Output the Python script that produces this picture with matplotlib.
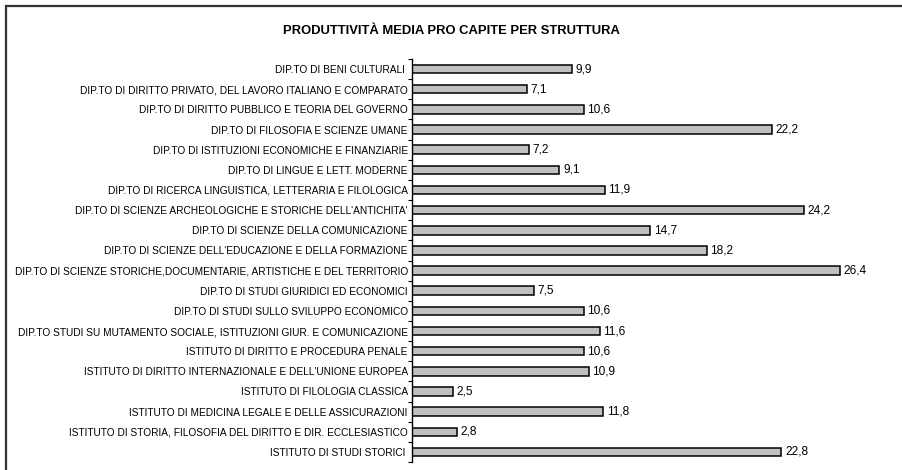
import numpy as np
import matplotlib.pyplot as plt
from matplotlib.patches import Rectangle

plt.rcParams['font.family'] = ['Liberation Sans', 'DejaVu Sans']

strutture = [
    "DIP.TO DI BENI CULTURALI ",
    "DIP.TO DI DIRITTO PRIVATO, DEL LAVORO ITALIANO E COMPARATO",
    "DIP.TO DI DIRITTO PUBBLICO E TEORIA DEL GOVERNO",
    "DIP.TO DI FILOSOFIA E SCIENZE UMANE",
    "DIP.TO DI ISTITUZIONI ECONOMICHE E FINANZIARIE",
    "DIP.TO DI LINGUE E LETT. MODERNE",
    "DIP.TO DI RICERCA LINGUISTICA, LETTERARIA E FILOLOGICA",
    "DIP.TO DI SCIENZE ARCHEOLOGICHE E STORICHE DELL'ANTICHITA'",
    "DIP.TO DI SCIENZE DELLA COMUNICAZIONE",
    "DIP.TO DI SCIENZE DELL'EDUCAZIONE E DELLA FORMAZIONE",
    "DIP.TO DI SCIENZE STORICHE,DOCUMENTARIE, ARTISTICHE E DEL TERRITORIO",
    "DIP.TO DI STUDI GIURIDICI ED ECONOMICI",
    "DIP.TO DI STUDI SULLO SVILUPPO ECONOMICO",
    "DIP.TO STUDI SU MUTAMENTO SOCIALE, ISTITUZIONI GIUR. E COMUNICAZIONE",
    "ISTITUTO DI DIRITTO E PROCEDURA PENALE",
    "ISTITUTO DI DIRITTO INTERNAZIONALE E DELL'UNIONE EUROPEA",
    "ISTITUTO DI FILOLOGIA CLASSICA",
    "ISTITUTO DI MEDICINA LEGALE E DELLE ASSICURAZIONI",
    "ISTITUTO DI STORIA, FILOSOFIA DEL DIRITTO E DIR. ECCLESIASTICO",
    "ISTITUTO DI STUDI STORICI ",
]
produttivita = [9.9, 7.1, 10.6, 22.2, 7.2, 9.1, 11.9, 24.2, 14.7, 18.2,
                26.4, 7.5, 10.6, 11.6, 10.6, 10.9, 2.5, 11.8, 2.8, 22.8]

W, H = 903, 470
fig = plt.figure(figsize=(W / 100, H / 100), dpi=100)
ax = fig.add_axes([412 / W, 1 - 462 / H, (890 - 412) / W, (462 - 59) / H])

n = len(strutture)
y = np.arange(n)
ax.barh(y, produttivita, height=0.42, color='#c0c0c0', edgecolor='black', linewidth=1.1)

for yi, v in zip(y, produttivita):
    ax.text(v + 0.22, yi, f"{v:.1f}".replace('.', ','), va='center', ha='left', fontsize=8.6)

ax.set_ylim(n - 0.5, -0.5)
ax.set_xlim(0, 29.5)
ax.set_yticks(y)
ax.set_yticklabels(strutture, fontsize=7.28)
ax.tick_params(axis='y', which='major', length=0, pad=3)
ax.set_yticks(np.arange(n + 1) - 0.5, minor=True)
ax.tick_params(axis='y', which='minor', length=3, width=0.8, direction='out')
ax.set_xticks([])
for s in ['top', 'right', 'bottom']:
    ax.spines[s].set_visible(False)
ax.spines['left'].set_linewidth(1.0)

fig.text(451.5 / W, 1 - 31 / H, "PRODUTTIVITÀ MEDIA PRO CAPITE PER STRUTTURA",
         ha='center', va='center', fontsize=9.4, fontweight='bold')

# cornice del grafico (tagliata a destra e in basso)
fig.patches.append(Rectangle((6 / W, -0.05), 1.1, 1 - 6 / H + 0.05, transform=fig.transFigure,
                             fill=False, edgecolor='#333333', linewidth=1.6))

fig.savefig('out.png', dpi=100)
